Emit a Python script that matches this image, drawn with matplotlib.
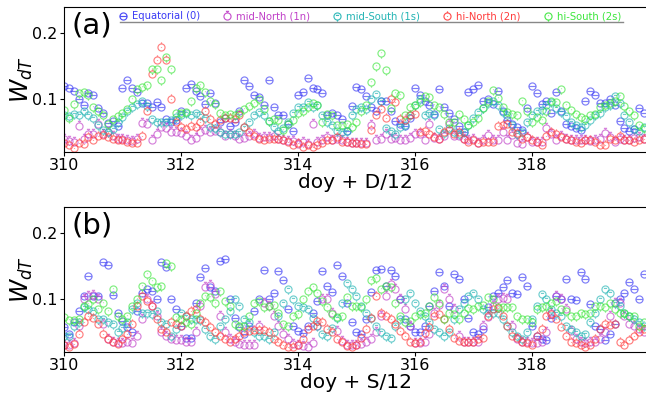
import numpy as np
import matplotlib
matplotlib.use("Agg")
import matplotlib.pyplot as plt
from matplotlib.path import Path
from matplotlib.lines import Line2D

# ---------------- data (12 samples per day, day 310.0 ... 319.917) ----------------
days = np.arange(310, 320, 1 / 12.0)

series_names = ["Equatorial (0)", "mid-North (1n)", "mid-South (1s)", "hi-North (2n)", "hi-South (2s)"]
series_colors = ["#3a3af5", "#c040c8", "#22b4b4", "#ff3c3c", "#3ce63c"]

# panel (a): doy + D/12
a_eq = [
    0.120, 0.118, 0.112, 0.100, 0.092, 0.109, 0.107, 0.087, 0.080, 0.064, 0.067, 0.060,
    0.118, 0.130, 0.118, 0.111, 0.095, 0.095, 0.088, 0.096, 0.089, 0.070, 0.066, 0.068,
    0.083, 0.117, 0.124, 0.112, 0.105, 0.093, 0.110, 0.095, 0.066, 0.072, 0.060, 0.066,
    0.083, 0.129, 0.121, 0.106, 0.104, 0.091, 0.130, 0.088, 0.077, 0.077, 0.063, 0.052,
    0.106, 0.111, 0.132, 0.118, 0.116, 0.110, 0.076, 0.080, 0.076, 0.070, 0.052, 0.090,
    0.119, 0.115, 0.105, 0.089, 0.083, 0.098, 0.098, 0.082, 0.067, 0.062, 0.060, 0.072,
    0.118, 0.106, 0.098, 0.091, 0.078, 0.115, 0.088, 0.079, 0.070, 0.060, 0.050, 0.111,
    0.116, 0.122, 0.097, 0.101, 0.093, 0.113, 0.082, 0.068, 0.063, 0.058, 0.053, 0.087,
    0.120, 0.109, 0.093, 0.098, 0.079, 0.111, 0.082, 0.062, 0.060, 0.056, 0.053, 0.098,
    0.112, 0.106, 0.094, 0.094, 0.101, 0.091, 0.067, 0.057, 0.052, 0.055, 0.087, 0.080,
]
a_mn = [
    0.040, 0.037, 0.035, 0.060, 0.040, 0.047, 0.047, 0.062, 0.048, 0.050, 0.045, 0.040,
    0.040, 0.038, 0.037, 0.040, 0.064, 0.062, 0.039, 0.048, 0.058, 0.056, 0.051, 0.050,
    0.049, 0.045, 0.039, 0.042, 0.051, 0.053, 0.051, 0.052, 0.050, 0.045, 0.048, 0.045,
    0.040, 0.041, 0.044, 0.047, 0.041, 0.043, 0.043, 0.045, 0.040, 0.038, 0.037, 0.037,
    0.032, 0.035, 0.032, 0.062, 0.035, 0.039, 0.043, 0.038, 0.040, 0.038, 0.035, 0.033,
    0.033, 0.033, 0.033, 0.061, 0.039, 0.040, 0.048, 0.040, 0.041, 0.038, 0.038, 0.042,
    0.047, 0.047, 0.038, 0.063, 0.041, 0.040, 0.045, 0.063, 0.045, 0.045, 0.040, 0.038,
    0.040, 0.033, 0.038, 0.046, 0.038, 0.038, 0.050, 0.038, 0.046, 0.034, 0.032, 0.043,
    0.035, 0.036, 0.035, 0.056, 0.047, 0.038, 0.045, 0.040, 0.038, 0.038, 0.038, 0.038,
    0.037, 0.038, 0.040, 0.049, 0.043, 0.035, 0.040, 0.038, 0.038, 0.041, 0.043, 0.040,
]
a_ms = [
    0.077, 0.075, 0.078, 0.076, 0.083, 0.076, 0.071, 0.061, 0.053, 0.050, 0.055, 0.066,
    0.073, 0.083, 0.088, 0.093, 0.097, 0.090, 0.070, 0.066, 0.065, 0.066, 0.068, 0.073,
    0.077, 0.080, 0.077, 0.080, 0.076, 0.071, 0.058, 0.056, 0.051, 0.047, 0.047, 0.047,
    0.051, 0.058, 0.066, 0.076, 0.081, 0.077, 0.067, 0.058, 0.052, 0.056, 0.066, 0.080,
    0.089, 0.088, 0.096, 0.089, 0.091, 0.077, 0.066, 0.061, 0.052, 0.050, 0.052, 0.076,
    0.086, 0.088, 0.085, 0.100, 0.108, 0.098, 0.056, 0.052, 0.048, 0.058, 0.061, 0.076,
    0.091, 0.100, 0.077, 0.080, 0.076, 0.055, 0.049, 0.056, 0.050, 0.048, 0.051, 0.061,
    0.071, 0.081, 0.087, 0.094, 0.098, 0.091, 0.081, 0.076, 0.061, 0.048, 0.051, 0.066,
    0.076, 0.083, 0.084, 0.091, 0.096, 0.087, 0.081, 0.075, 0.065, 0.061, 0.058, 0.061,
    0.068, 0.076, 0.079, 0.088, 0.091, 0.105, 0.095, 0.076, 0.066, 0.055, 0.052, 0.058,
]
a_hn = [
    0.034, 0.030, 0.026, 0.033, 0.032, 0.043, 0.038, 0.045, 0.046, 0.043, 0.040, 0.039,
    0.038, 0.035, 0.034, 0.034, 0.045, 0.082, 0.138, 0.160, 0.179, 0.160, 0.100, 0.066,
    0.058, 0.055, 0.060, 0.058, 0.066, 0.083, 0.070, 0.062, 0.068, 0.071, 0.072, 0.070,
    0.076, 0.058, 0.050, 0.045, 0.040, 0.038, 0.040, 0.040, 0.040, 0.038, 0.035, 0.030,
    0.033, 0.028, 0.030, 0.028, 0.030, 0.033, 0.038, 0.038, 0.043, 0.035, 0.035, 0.033,
    0.033, 0.032, 0.032, 0.054, 0.077, 0.085, 0.072, 0.100, 0.096, 0.070, 0.068, 0.077,
    0.078, 0.051, 0.052, 0.047, 0.043, 0.040, 0.050, 0.053, 0.048, 0.051, 0.040, 0.035,
    0.038, 0.033, 0.035, 0.035, 0.036, 0.059, 0.061, 0.063, 0.051, 0.049, 0.040, 0.043,
    0.038, 0.035, 0.030, 0.045, 0.050, 0.048, 0.043, 0.040, 0.038, 0.035, 0.033, 0.038,
    0.038, 0.035, 0.030, 0.030, 0.040, 0.038, 0.045, 0.038, 0.038, 0.035, 0.038, 0.040,
]
a_hs = [
    0.084, 0.071, 0.093, 0.109, 0.111, 0.106, 0.088, 0.082, 0.077, 0.063, 0.070, 0.075,
    0.080, 0.085, 0.100, 0.116, 0.119, 0.122, 0.146, 0.146, 0.130, 0.164, 0.146, 0.080,
    0.079, 0.081, 0.097, 0.117, 0.122, 0.111, 0.097, 0.093, 0.080, 0.076, 0.078, 0.077,
    0.080, 0.086, 0.090, 0.095, 0.100, 0.086, 0.067, 0.070, 0.068, 0.053, 0.063, 0.068,
    0.080, 0.082, 0.088, 0.094, 0.092, 0.066, 0.078, 0.076, 0.061, 0.061, 0.062, 0.058,
    0.066, 0.082, 0.091, 0.126, 0.150, 0.171, 0.144, 0.087, 0.110, 0.106, 0.076, 0.088,
    0.091, 0.096, 0.105, 0.103, 0.091, 0.088, 0.078, 0.066, 0.066, 0.078, 0.070, 0.061,
    0.066, 0.072, 0.087, 0.098, 0.114, 0.102, 0.088, 0.081, 0.078, 0.076, 0.097, 0.082,
    0.066, 0.073, 0.068, 0.082, 0.098, 0.096, 0.116, 0.091, 0.084, 0.078, 0.073, 0.070,
    0.077, 0.078, 0.088, 0.091, 0.095, 0.098, 0.105, 0.090, 0.082, 0.076, 0.061, 0.057,
]

# panel (b): doy + S/12
b_eq = [
    0.058, 0.048, 0.066, 0.082, 0.105, 0.135, 0.105, 0.105, 0.156, 0.152, 0.106, 0.080,
    0.067, 0.058, 0.050, 0.082, 0.110, 0.115, 0.113, 0.100, 0.156, 0.149, 0.100, 0.085,
    0.060, 0.042, 0.042, 0.095, 0.134, 0.148, 0.118, 0.113, 0.158, 0.161, 0.100, 0.072,
    0.058, 0.047, 0.060, 0.082, 0.100, 0.145, 0.100, 0.110, 0.143, 0.130, 0.085, 0.060,
    0.052, 0.049, 0.060, 0.080, 0.097, 0.143, 0.120, 0.111, 0.152, 0.135, 0.095, 0.065,
    0.050, 0.048, 0.070, 0.111, 0.144, 0.146, 0.120, 0.144, 0.136, 0.101, 0.070, 0.060,
    0.050, 0.050, 0.060, 0.090, 0.113, 0.141, 0.121, 0.090, 0.139, 0.131, 0.101, 0.072,
    0.050, 0.047, 0.055, 0.088, 0.105, 0.110, 0.118, 0.130, 0.110, 0.108, 0.134, 0.121,
    0.060, 0.044, 0.040, 0.038, 0.072, 0.105, 0.100, 0.131, 0.100, 0.099, 0.141, 0.131,
    0.093, 0.060, 0.055, 0.038, 0.048, 0.063, 0.100, 0.110, 0.126, 0.116, 0.101, 0.139,
]
b_mn = [
    0.030, 0.030, 0.033, 0.060, 0.100, 0.105, 0.107, 0.100, 0.062, 0.040, 0.035, 0.033,
    0.033, 0.035, 0.034, 0.045, 0.070, 0.100, 0.090, 0.075, 0.050, 0.045, 0.040, 0.038,
    0.038, 0.035, 0.035, 0.050, 0.090, 0.118, 0.122, 0.108, 0.075, 0.050, 0.040, 0.036,
    0.032, 0.030, 0.030, 0.031, 0.060, 0.095, 0.090, 0.075, 0.060, 0.048, 0.040, 0.032,
    0.030, 0.029, 0.028, 0.034, 0.060, 0.100, 0.101, 0.080, 0.052, 0.037, 0.030, 0.030,
    0.030, 0.032, 0.035, 0.040, 0.050, 0.075, 0.105, 0.123, 0.115, 0.100, 0.085, 0.060,
    0.034, 0.034, 0.036, 0.048, 0.080, 0.092, 0.116, 0.100, 0.085, 0.045, 0.035, 0.035,
    0.035, 0.036, 0.060, 0.073, 0.090, 0.100, 0.102, 0.100, 0.060, 0.040, 0.035, 0.035,
    0.033, 0.033, 0.036, 0.050, 0.080, 0.105, 0.100, 0.085, 0.052, 0.040, 0.035, 0.033,
    0.035, 0.035, 0.040, 0.050, 0.075, 0.095, 0.095, 0.075, 0.062, 0.060, 0.055, 0.050,
]
b_ms = [
    0.045, 0.045, 0.060, 0.065, 0.088, 0.085, 0.083, 0.070, 0.070, 0.065, 0.062, 0.050,
    0.057, 0.065, 0.085, 0.095, 0.080, 0.080, 0.078, 0.083, 0.065, 0.062, 0.045, 0.055,
    0.080, 0.075, 0.070, 0.070, 0.068, 0.055, 0.045, 0.040, 0.060, 0.070, 0.083, 0.100,
    0.090, 0.070, 0.065, 0.050, 0.045, 0.045, 0.040, 0.050, 0.075, 0.095, 0.115, 0.100,
    0.090, 0.088, 0.085, 0.072, 0.060, 0.047, 0.045, 0.057, 0.072, 0.095, 0.125, 0.115,
    0.105, 0.090, 0.080, 0.072, 0.060, 0.050, 0.044, 0.042, 0.060, 0.070, 0.100, 0.110,
    0.095, 0.082, 0.075, 0.065, 0.055, 0.050, 0.045, 0.050, 0.070, 0.085, 0.095, 0.105,
    0.110, 0.100, 0.085, 0.080, 0.080, 0.080, 0.070, 0.060, 0.050, 0.045, 0.040, 0.050,
    0.070, 0.090, 0.108, 0.100, 0.085, 0.080, 0.075, 0.060, 0.055, 0.050, 0.045, 0.048,
    0.065, 0.080, 0.100, 0.115, 0.110, 0.095, 0.090, 0.080, 0.075, 0.070, 0.065, 0.060,
]
b_hn = [
    0.030, 0.028, 0.032, 0.048, 0.065, 0.075, 0.072, 0.062, 0.047, 0.040, 0.035, 0.032,
    0.040, 0.047, 0.062, 0.090, 0.105, 0.098, 0.090, 0.070, 0.055, 0.050, 0.065, 0.062,
    0.060, 0.075, 0.082, 0.085, 0.070, 0.065, 0.058, 0.050, 0.045, 0.040, 0.035, 0.040,
    0.045, 0.050, 0.052, 0.054, 0.054, 0.053, 0.050, 0.040, 0.035, 0.030, 0.028, 0.028,
    0.030, 0.040, 0.055, 0.060, 0.067, 0.065, 0.055, 0.050, 0.040, 0.035, 0.029, 0.027,
    0.030, 0.042, 0.055, 0.072, 0.105, 0.080, 0.075, 0.070, 0.062, 0.052, 0.045, 0.036,
    0.034, 0.036, 0.049, 0.058, 0.075, 0.077, 0.070, 0.055, 0.042, 0.037, 0.035, 0.035,
    0.036, 0.040, 0.042, 0.075, 0.085, 0.087, 0.075, 0.060, 0.045, 0.042, 0.036, 0.033,
    0.030, 0.045, 0.055, 0.075, 0.077, 0.070, 0.058, 0.045, 0.036, 0.033, 0.030, 0.028,
    0.030, 0.040, 0.055, 0.062, 0.061, 0.062, 0.036, 0.030, 0.038, 0.045, 0.050, 0.055,
]
b_hs = [
    0.073, 0.068, 0.068, 0.070, 0.090, 0.093, 0.100, 0.085, 0.095, 0.083, 0.115, 0.075,
    0.070, 0.075, 0.090, 0.100, 0.120, 0.138, 0.128, 0.119, 0.120, 0.155, 0.150, 0.073,
    0.070, 0.065, 0.062, 0.080, 0.095, 0.105, 0.103, 0.095, 0.113, 0.098, 0.090, 0.062,
    0.060, 0.060, 0.075, 0.095, 0.098, 0.088, 0.090, 0.092, 0.080, 0.063, 0.060, 0.075,
    0.078, 0.100, 0.112, 0.118, 0.110, 0.098, 0.088, 0.077, 0.073, 0.074, 0.103, 0.090,
    0.090, 0.088, 0.100, 0.130, 0.133, 0.115, 0.120, 0.118, 0.095, 0.075, 0.065, 0.067,
    0.075, 0.078, 0.080, 0.090, 0.103, 0.095, 0.070, 0.080, 0.078, 0.070, 0.080, 0.087,
    0.085, 0.090, 0.092, 0.103, 0.100, 0.088, 0.088, 0.088, 0.088, 0.075, 0.070, 0.070,
    0.065, 0.085, 0.088, 0.090, 0.095, 0.098, 0.085, 0.083, 0.075, 0.075, 0.080, 0.078,
    0.080, 0.090, 0.090, 0.088, 0.095, 0.085, 0.080, 0.080, 0.075, 0.075, 0.060, 0.065,
]

panel_a = [a_eq, a_mn, a_ms, a_hn, a_hs]
panel_b = [b_eq, b_mn, b_ms, b_hn, b_hs]

x_ticks = [310, 312, 314, 316, 318]
y_ticks = [0.1, 0.2]

# ---------------- marker shapes (circle with small error-bar like decorations) ----------------
def make_marker(kind):
    circ = Path.unit_circle()
    M, L = Path.MOVETO, Path.LINETO
    if kind == 0:   # horizontal bar through centre
        extra = Path([(-1.0, 0.0), (1.0, 0.0), (0, 1.45), (0, 1.45)], [M, L, M, L])
    elif kind == 1:  # stem + cap on top
        extra = Path([(0, 1.0), (0, 1.45), (-0.45, 1.45), (0.45, 1.45)], [M, L, M, L])
    elif kind == 2:  # stem below + inner bar
        extra = Path([(0, -1.0), (0, -1.45), (-0.45, 0.3), (0.45, 0.3)], [M, L, M, L])
    elif kind == 3:  # short tick on top + dot
        extra = Path([(0, 1.0), (0, 1.45), (0, -0.1), (0, 0.1)], [M, L, M, L])
    else:            # stem below + dot
        extra = Path([(0, -1.0), (0, -1.45), (0, 0.1), (0, 0.3)], [M, L, M, L])
    return Path.make_compound_path(circ, extra)

markers = [make_marker(i) for i in range(5)]

# ---------------- figure ----------------
fig = plt.figure(figsize=(6.46, 3.96), dpi=100)
ax_a = fig.add_axes([0.0991, 0.616, 0.9025, 0.366])
ax_b = fig.add_axes([0.0991, 0.111, 0.9025, 0.366])

for ax, data, lab, xl in [(ax_a, panel_a, "(a)", "doy + D/12"),
                          (ax_b, panel_b, "(b)", "doy + S/12")]:
    handles = []
    for vals, col, mk, name in zip(data, series_colors, markers, series_names):
        h, = ax.plot(days, vals, linestyle="none", marker=mk, markersize=7.4,
                     markerfacecolor="none", markeredgecolor=col, markeredgewidth=0.85,
                     alpha=0.65, label=name)
        handles.append(h)
    ax.set_xlim(310, 319.97)
    ax.set_ylim(0.02, 0.24)
    ax.set_xticks(x_ticks)
    ax.set_yticks(y_ticks)
    ax.set_yticklabels(["0.1", "0.2"])
    ax.tick_params(labelsize=11.5, length=3, width=0.8, pad=1.5)
    ax.set_xlabel(xl, fontsize=14.5, labelpad=0)
    ax.set_ylabel(r"$W_{dT}$", fontsize=17, labelpad=-2)
    ax.text(0.012, 0.97, lab, transform=ax.transAxes, fontsize=21, va="top", ha="left")
    ax.spines["right"].set_visible(False)
    if ax is ax_a:
        leg = ax.legend(handles=handles, loc="upper center", bbox_to_anchor=(0.525, 1.02),
                        ncol=5, fontsize=7.2, frameon=False, handlelength=0.8,
                        handletextpad=0.5, columnspacing=2.3, borderaxespad=0.3)
        for txt, col in zip(leg.get_texts(), series_colors):
            txt.set_color(col)
        for lh in leg.legend_handles:
            lh.set_alpha(0.9)
        ax.add_line(Line2D([0.096, 0.958], [0.895, 0.895], transform=ax.transAxes,
                           color="#888888", lw=1.0))

fig.savefig("out.png", dpi=100)
